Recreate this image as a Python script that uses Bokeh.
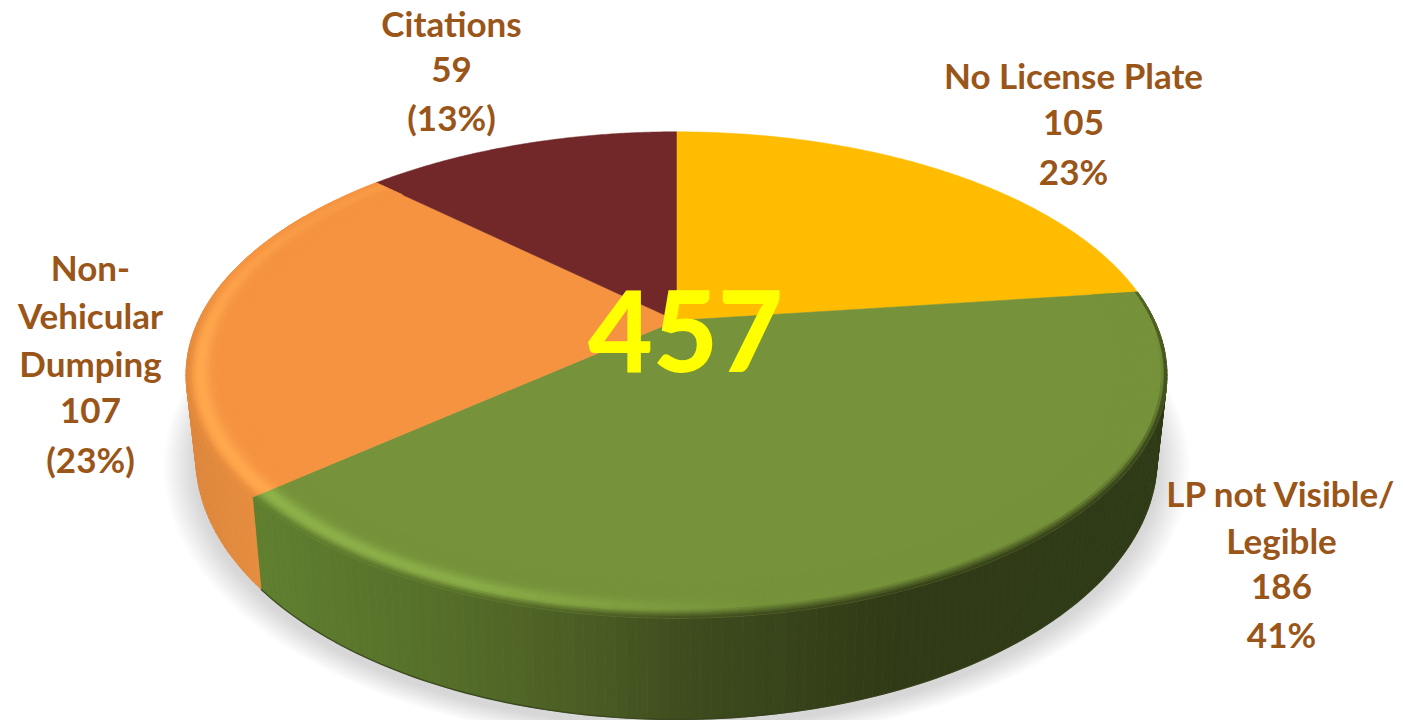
import numpy as np
from bokeh.plotting import figure
from bokeh.models import Range1d
from bokeh.core.properties import value
from bokeh.embed import file_html
from bokeh.resources import INLINE

# ---- data (clockwise from 12 o'clock) ----
categories = ["No License Plate", "LP not Visible/Legible", "Non-Vehicular Dumping", "Citations"]
counts = [105, 186, 107, 59]
percent_labels = ["23%", "41%", "(23%)", "(13%)"]
total_label = "457"
name_lines = [["No License Plate"], ["LP not Visible/", "Legible"], ["Non-", "Vehicular", "Dumping"], ["Citations"]]
top_colors = ["#FFBC00", "#76923A", "#F59341", "#722828"]

# ---- layout / style ----
W, H = 1403, 720
CX, CY, A, B, K = 676.0, 320.0, 478.0, 231.0, 0.224
DEPTH, SHRINK = 78.6, 0.98
label_x = [1073, 1281, 90, 451]
label_y0 = [74, 492, 266, 22]
label_step = [48, 47, 48, 47]
TEXT = "#9A5519"


def hex2rgb(h):
    return np.array([int(h[i:i + 2], 16) for i in (1, 3, 5)], float)


def rgb2hex(c):
    c = np.clip(np.round(c), 0, 255).astype(int)
    return "#%02x%02x%02x" % tuple(c)


def proj(r, deg):
    t = np.radians(deg)
    u, v = r * np.sin(t), r * np.cos(t)
    w = 1 + K * v
    return CX + A * u / w, CY - B * v / w


def proj_low(deg, grow=0.0, dy=0.0):
    t = np.radians(deg)
    u, v = np.sin(t), np.cos(t)
    w = 1 + K * v
    x, y = proj(1.0, deg)
    sx = CX + (x - CX) * (SHRINK + grow)
    sy = y + DEPTH / w + dy + (y - CY) * grow
    return sx, sy


p = figure(width=W, height=H, x_range=Range1d(0, W), y_range=Range1d(H, 0),
           toolbar_location=None, output_backend="svg", min_border=0,
           background_fill_color="white", border_fill_color="white", outline_line_color=None)
p.axis.visible = False
p.grid.visible = False

fractions = np.array(counts) / sum(counts)
edges = np.concatenate([[0], np.cumsum(fractions) * 360])

# shadow
full = np.linspace(0, 360, 361)
for g in np.linspace(0.065, 0.002, 14):
    x, y = proj_low(full, grow=g, dy=6)
    p.patch(x, y, fill_color="#808080", fill_alpha=0.028, line_color=None)

side_x = [196, 262, 430, 590, 700, 900, 1160]
green_side = ["#5E7C2F", "#5F7F2F", "#566F29", "#4A5C24", "#3D4A1D", "#303A16", "#2F3A16"]
orange_side = ["#DE883C", "#E88E40", "#E88E40", "#E88E40", "#E88E40", "#E88E40", "#E88E40"]


def side_color(xpos, palette):
    arr = np.array([hex2rgb(c) for c in palette])
    return np.array([np.interp(xpos, side_x, arr[:, i]) for i in range(3)])


# slice index -> side palette, highlight colour
rim = {1: (green_side, "#8FB34B"), 2: (orange_side, "#FFA84E")}


def highlight(i, t):
    if i == 1:
        return float(np.interp(t, [150, 172, 200, 229.2], [0, 0, .8, 1]))
    return float(np.interp(t, [229, 262, 300], [1, 1, .4]))


def edge(i, t):
    if i == 1:
        return float(np.interp(t, [82, 100, 240], [.8, 1, 1]))
    return float(np.interp(t, [229, 262, 285], [1, 1, 0]))


def ramp_start(t):
    return float(np.interp(t, [82, 105, 150, 360], [.93, .9, .76, .76]))


STEP = 1.0
# sides
for i, (pal, _) in rim.items():
    ts = np.arange(edges[i], min(edges[i + 1], 300) + 1e-6, STEP)
    ts = np.append(ts, min(edges[i + 1], 300))
    xs, ys, cs = [], [], []
    for a, b in zip(ts[:-1], ts[1:]):
        if b <= a:
            continue
        x0, y0 = proj(1.0, a)
        x1, y1 = proj(1.0, b)
        x2, y2 = proj_low(b)
        x3, y3 = proj_low(a)
        xs.append([x0, x1, x2, x3])
        ys.append([y0, y1, y2, y3])
        cs.append(rgb2hex(side_color((x0 + x1) / 2, pal)))
    p.patches(xs, ys, fill_color=cs, line_color=cs, line_width=0.8)
    # thin dark lower edge on the green slice
    if i == 1:
        lx, ly = proj_low(ts)
        p.line(lx, ly, line_color="#33401A", line_width=1.4, line_alpha=0.8)

# flat top slices
for i, col in enumerate(top_colors):
    ts = np.linspace(edges[i], edges[i + 1], 120)
    x, y = proj(1.0, ts)
    p.patch(np.r_[CX, x], np.r_[CY, y], fill_color=col, line_color=col, line_width=0.5)

# soft bevel on the front rim
r_edges = np.linspace(0.90, 1.0, 19)
for i, (pal, hl) in rim.items():
    base = hex2rgb(top_colors[i])
    hi = hex2rgb(hl)
    ts = np.arange(edges[i], edges[i + 1] + 1e-6, 1.5)
    ts = np.append(ts, edges[i + 1])
    xs, ys, cs = [], [], []
    for a, b in zip(ts[:-1], ts[1:]):
        if b <= a:
            continue
        m = (a + b) / 2
        mx, _ = proj(1.0, m)
        s = side_color(mx, pal)
        h, e = highlight(i, m), edge(i, m)
        q0 = ramp_start(m) + 0.08 * h
        for r0, r1 in zip(r_edges[:-1], r_edges[1:]):
            q = ((r0 + r1) / 2 - r_edges[0]) / (r_edges[-1] - r_edges[0])
            bump = np.exp(-((q - 0.72) / 0.18) ** 2) * h
            c = base + (hi - base) * bump
            dark = np.clip((q - q0) / (1 - q0), 0, 1) * e
            c = c + (s - c) * dark
            x0, y0 = proj(r0, a)
            x1, y1 = proj(r0, b)
            x2, y2 = proj(r1, b)
            x3, y3 = proj(r1, a)
            xs.append([x0, x1, x2, x3])
            ys.append([y0, y1, y2, y3])
            cs.append(rgb2hex(c))
    p.patches(xs, ys, fill_color=cs, line_color=cs, line_width=0.6)

# labels
font = value("Lato")
tx, ty, tt = [], [], []
for i, lines in enumerate(name_lines):
    rows = lines + [str(counts[i]), percent_labels[i]]
    for j, row in enumerate(rows):
        tx.append(label_x[i])
        ty.append(label_y0[i] + j * label_step[i])
        tt.append(row)
p.text(tx, ty, text=tt, text_font=font, text_font_style="bold", text_font_size="35px",
       text_color=TEXT, text_align="center", text_baseline="middle")

p.text([685], [330], text=[total_label], text_font=value("Lato Black"), text_font_style="bold",
       text_font_size="112px", text_color="#FFFF00", text_align="center", text_baseline="middle")

open("out.html", "w").write(file_html(p, INLINE))
